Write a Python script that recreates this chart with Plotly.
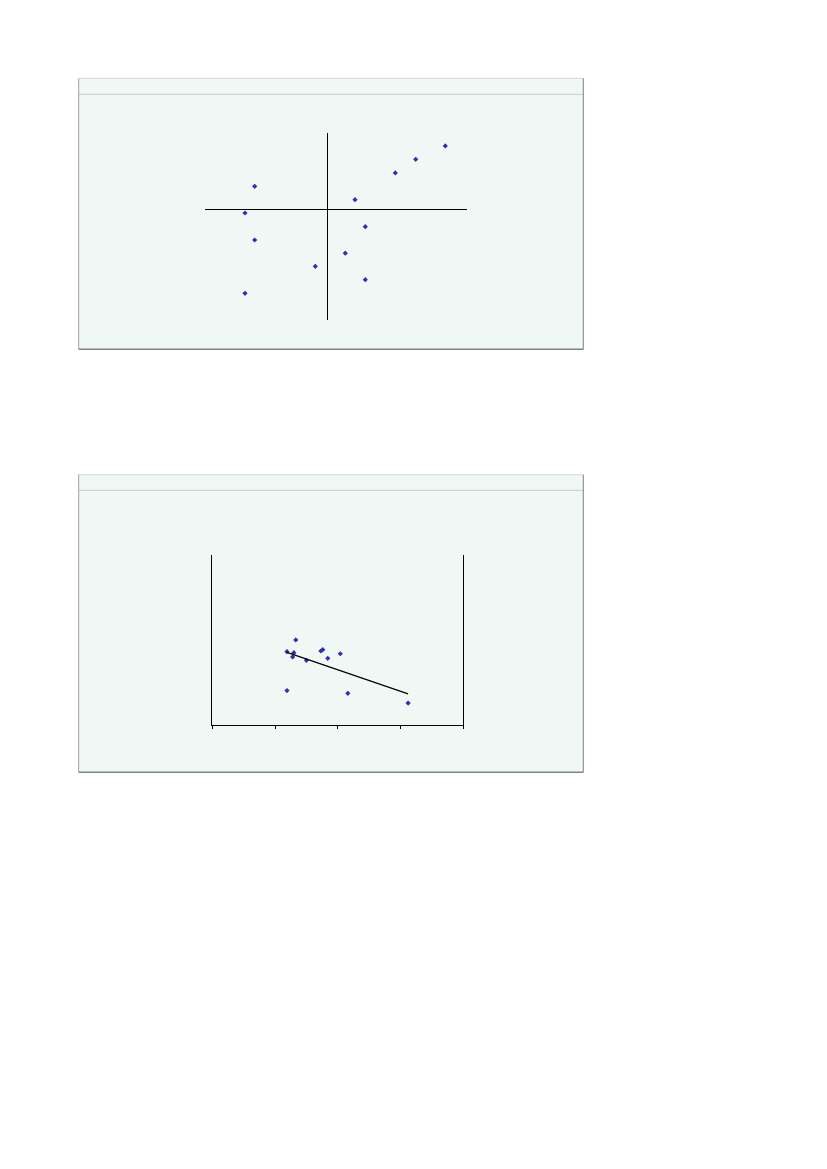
import numpy as np
import plotly.graph_objects as go

W, H = 827, 1169
OFF = 8  # page body margin

# chart 1: quadrant scatter
quad_x = [11.8, 8.84, 6.8, -7.26, 2.77, -8.23, 3.8, -7.26, 1.8, -1.2, 3.8, -8.23]
quad_y = [4.74, 3.74, 2.72, 1.72, 0.72, -0.28, -1.30, -2.30, -3.29, -4.27, -5.27, -6.29]

# chart 2: scatter with linear trend
trend_x = [13.3, 11.9, 13.0, 12.8, 15.0, 17.3, 17.6, 18.4, 20.4, 11.9, 21.6, 31.2]
trend_y = [5.02, 4.33, 4.27, 4.02, 3.82, 4.37, 4.45, 3.94, 4.21, 2.04, 1.88, 1.31]

MARKER = dict(symbol="diamond", size=4, color="#3030a8")


def px_x(v):
    return (v - OFF) / W


def px_y(v):
    return 1 - (v - OFF) / H


def panel_shapes(left, top, right, bottom, header):
    return [
        dict(type="rect", xref="paper", yref="paper", layer="below",
             x0=px_x(left), x1=px_x(right), y0=px_y(bottom), y1=px_y(top),
             fillcolor="#f0f8f5", line=dict(width=0)),
        dict(type="line", xref="paper", yref="paper", layer="below",
             x0=px_x(left), x1=px_x(right), y0=px_y(header), y1=px_y(header),
             line=dict(color="#c8cccb", width=1)),
        dict(type="line", xref="paper", yref="paper", layer="below",
             x0=px_x(left), x1=px_x(right), y0=px_y(top), y1=px_y(top),
             line=dict(color="#d6d6d6", width=1)),
        dict(type="line", xref="paper", yref="paper", layer="below",
             x0=px_x(left), x1=px_x(left), y0=px_y(bottom), y1=px_y(top),
             line=dict(color="#a0a0a0", width=1)),
        dict(type="line", xref="paper", yref="paper", layer="below",
             x0=px_x(right), x1=px_x(right), y0=px_y(bottom), y1=px_y(top),
             line=dict(color="#808080", width=1)),
        dict(type="line", xref="paper", yref="paper", layer="below",
             x0=px_x(left), x1=px_x(right), y0=px_y(bottom), y1=px_y(bottom),
             line=dict(color="#808080", width=1.5)),
    ]


fig = go.Figure()

fig.add_trace(go.Scatter(x=quad_x, y=quad_y, mode="markers", marker=MARKER,
                         xaxis="x", yaxis="y", showlegend=False))

fig.add_trace(go.Scatter(x=trend_x, y=trend_y, mode="markers", marker=MARKER,
                         xaxis="x2", yaxis="y2", showlegend=False))

slope, intercept = np.polyfit(trend_x, trend_y, 1)
fit_x = [min(trend_x), max(trend_x)]
fig.add_trace(go.Scatter(x=fit_x, y=[slope * v + intercept for v in fit_x], mode="lines",
                         line=dict(color="black", width=1.2),
                         xaxis="x2", yaxis="y2", showlegend=False))

fig.update_layout(
    width=W, height=H, autosize=False,
    margin=dict(l=0, r=0, t=0, b=0),
    paper_bgcolor="white",
    plot_bgcolor="rgba(0,0,0,0)",
    shapes=panel_shapes(78.7, 78.3, 583.3, 349.3, 94.3) + panel_shapes(78.7, 474.7, 583.3, 772.3, 490.3),
    xaxis=dict(domain=[px_x(205), px_x(466.7)], range=[-12.23, 13.94],
               showgrid=False, showticklabels=False, showline=False, ticks="",
               zeroline=True, zerolinecolor="black", zerolinewidth=1.3),
    yaxis=dict(domain=[px_y(320), px_y(133)], range=[-8.29, 5.71],
               showgrid=False, showticklabels=False, showline=False, ticks="",
               zeroline=True, zerolinecolor="black", zerolinewidth=1.3),
    xaxis2=dict(domain=[px_x(212.3), px_x(463.3)], range=[0, 40], anchor="y2",
                showgrid=False, zeroline=False, showticklabels=False,
                showline=True, linecolor="black", linewidth=1.3,
                ticks="outside", tick0=0, dtick=10, ticklen=3, tickcolor="black", tickwidth=1),
    yaxis2=dict(domain=[px_y(725.3), px_y(555.3)], range=[0, 10], anchor="x2",
                showgrid=False, zeroline=False, showticklabels=False,
                showline=True, mirror=True, linecolor="black", linewidth=1.3, ticks=""),
)

fig.write_html("out.html")
